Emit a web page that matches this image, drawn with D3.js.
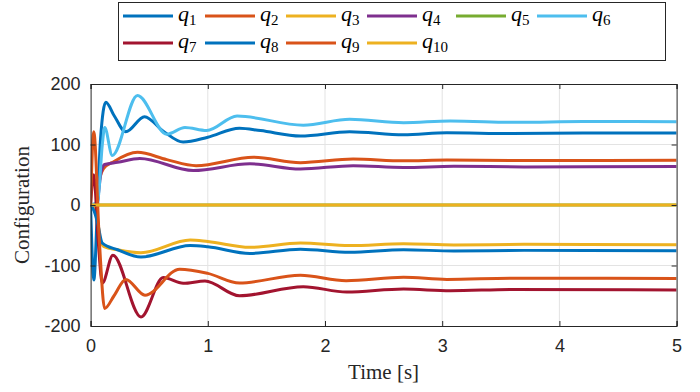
<!DOCTYPE html>
<html>
<head>
<meta charset="utf-8">
<script src="https://cdn.jsdelivr.net/npm/d3@7"></script>
<style>
  body { margin: 0; background: #fff; }
  svg { display: block; }
</style>
</head>
<body>
<svg id="chart" width="700" height="392"></svg>
<script>
// key points [time, value]
const q1 = [[0,0],[0.028,-124],[0.055,-20],[0.085,110],[0.13,170],[0.2,148],[0.3,121],[0.46,146],[0.62,122],[0.79,104],[1.0,112],[1.27,127],[1.45,123],[1.79,114],[2.21,121],[2.67,116],[3.04,119.5],[3.6,118],[4.2,119],[5,119]];
const q2 = [[0,0],[0.04,-5],[0.08,45],[0.11,60],[0.2,72],[0.4,87],[0.65,75],[0.9,65],[1.39,79],[1.79,70],[2.24,76],[2.67,73],[3.04,74.5],[3.6,73.5],[5,74]];
const q3 = [[0,0],[0.045,-5],[0.08,-55],[0.114,-69],[0.23,-74],[0.43,-79],[0.85,-58],[1.0,-60.5],[1.36,-70],[1.79,-63],[2.21,-67],[2.67,-64],[3.1,-66],[3.7,-65],[5,-65.5]];
const q4 = [[0,0],[0.05,0],[0.09,55],[0.12,67],[0.23,70.5],[0.42,77],[0.876,57],[1.36,68],[1.79,59.5],[2.24,65],[2.67,62],[3.1,64],[3.7,63],[5,63.5]];
const q5 = [[0,0],[5,0]];
const q6 = [[0,0],[0.06,5],[0.1,100],[0.12,128],[0.185,82],[0.4,181],[0.65,117],[0.805,128],[0.99,123],[1.25,147],[1.815,132],[2.21,141.6],[2.67,136],[3.07,139],[3.64,136.6],[4.2,138],[5,137.7]];
const q7 = [[0,0],[0.027,50],[0.065,-60],[0.1,-129],[0.19,-83],[0.43,-185],[0.62,-120],[0.79,-129.5],[0.976,-125.6],[1.27,-150],[1.815,-135],[2.185,-144],[2.67,-139],[3.07,-141.6],[3.6,-139.5],[5,-140.5]];
const q8 = [[0,0],[0.03,-10],[0.06,-30],[0.1,-63],[0.23,-74],[0.43,-86],[0.85,-67],[1.0,-69],[1.36,-80],[1.79,-73],[2.21,-78],[2.67,-74],[3.1,-76],[3.7,-75],[5,-75.5]];
const q9 = [[0,0],[0.027,121],[0.075,-60],[0.12,-171],[0.2,-150],[0.3,-123],[0.464,-149],[0.76,-106],[1.0,-113],[1.27,-129],[1.79,-116],[2.18,-125],[2.67,-119.5],[3.04,-123],[3.6,-121],[5,-121.5]];
const q10 = [[0,0],[5,0]];

const seriesNames = ["1","2","3","4","5","6","7","8","9","10"];
const seriesData = [q1, q2, q3, q4, q5, q6, q7, q8, q9, q10];
const colors = ["#0072BD","#D95319","#EDB120","#7E2F8E","#77AC30","#4DBEEE","#A2142F","#0072BD","#D95319","#EDB120"];

const xTicks = [0, 1, 2, 3, 4, 5];
const yTicks = [-200, -100, 0, 100, 200];

const margin = { top: 84, right: 23.4, bottom: 66, left: 90.6 };
const W = 700, H = 392;
const width = W - margin.left - margin.right;
const height = H - margin.top - margin.bottom;

const svg = d3.select("#chart");
const g = svg.append("g").attr("transform", `translate(${margin.left},${margin.top})`);

const x = d3.scaleLinear().domain([0, 5]).range([0, width]);
const y = d3.scaleLinear().domain([-200, 200]).range([height, 0]);

// grid
g.append("g").selectAll("line").data(xTicks.slice(1, -1)).join("line")
  .attr("x1", d => x(d)).attr("x2", d => x(d))
  .attr("y1", 0).attr("y2", height)
  .attr("stroke", "#e3e3e3").attr("stroke-width", 1);
g.append("g").selectAll("line").data(yTicks.slice(1, -1)).join("line")
  .attr("y1", d => y(d)).attr("y2", d => y(d))
  .attr("x1", 0).attr("x2", width)
  .attr("stroke", "#e3e3e3").attr("stroke-width", 1);

// lines
svg.append("defs").append("clipPath").attr("id", "clip")
  .append("rect").attr("width", width).attr("height", height);

const line = d3.line()
  .x(d => x(d[0]))
  .y(d => y(d[1]))
  .curve(d3.curveMonotoneX);

g.append("g").attr("clip-path", "url(#clip)")
  .selectAll("path").data(seriesData).join("path")
  .attr("fill", "none")
  .attr("stroke", (d, i) => colors[i])
  .attr("stroke-width", 3)
  .attr("stroke-linejoin", "round")
  .attr("d", line);

// axes (ticks pointing inward, box on all sides)
const axisColor = "#262626";
const tickFont = "'Liberation Sans', Arial, sans-serif";
const plainFormat = d => String(d);

g.append("g").attr("transform", `translate(0,${height})`)
  .call(d3.axisBottom(x).tickValues(xTicks).tickSize(-5).tickPadding(13).tickFormat(plainFormat));
g.append("g")
  .call(d3.axisLeft(y).tickValues(yTicks).tickSize(-5).tickPadding(10).tickFormat(plainFormat));
g.append("g")
  .call(d3.axisTop(x).tickValues(xTicks).tickSize(-5).tickFormat(""));
g.append("g").attr("transform", `translate(${width},0)`)
  .call(d3.axisRight(y).tickValues(yTicks).tickSize(-5).tickFormat(""));

g.selectAll(".domain").attr("stroke", axisColor).attr("stroke-width", 1);
g.selectAll(".tick line").attr("stroke", axisColor);
g.selectAll(".tick text")
  .attr("fill", "#262626")
  .style("font-family", tickFont)
  .style("font-size", "18px");

// axis labels
g.append("text")
  .attr("x", width / 2).attr("y", height + 53)
  .attr("text-anchor", "middle")
  .style("font-family", "'Liberation Serif', 'DejaVu Serif', serif")
  .style("font-size", "21px")
  .attr("fill", "#262626")
  .text("Time [s]");

g.append("text")
  .attr("transform", `translate(-62,${height / 2}) rotate(-90)`)
  .attr("text-anchor", "middle")
  .style("font-family", "'Liberation Serif', 'DejaVu Serif', serif")
  .style("font-size", "21px")
  .attr("fill", "#262626")
  .text("Configuration");

// legend
const legend = svg.append("g");
legend.append("rect")
  .attr("x", 118.5).attr("y", 2.5).attr("width", 547).attr("height", 58)
  .attr("fill", "#fff").attr("stroke", axisColor).attr("stroke-width", 1);

const colX = [123, 205, 286, 367, 456, 537];
const rowY = [16, 43];

seriesNames.forEach((name, i) => {
  const cx = colX[i % 6];
  const cy = rowY[Math.floor(i / 6)];
  const item = legend.append("g").attr("transform", `translate(${cx},${cy})`);
  item.append("line")
    .attr("x1", 0).attr("x2", 50).attr("y1", 0).attr("y2", 0)
    .attr("stroke", colors[i]).attr("stroke-width", 3);
  const t = item.append("text")
    .attr("x", 55).attr("y", 5)
    .style("font-family", "'Liberation Serif', 'DejaVu Serif', serif")
    .style("font-size", "22px")
    .attr("fill", "#000");
  t.append("tspan").style("font-style", "italic").text("q");
  t.append("tspan").attr("dy", 4).style("font-size", "15px").text(name);
});
</script>
</body>
</html>
